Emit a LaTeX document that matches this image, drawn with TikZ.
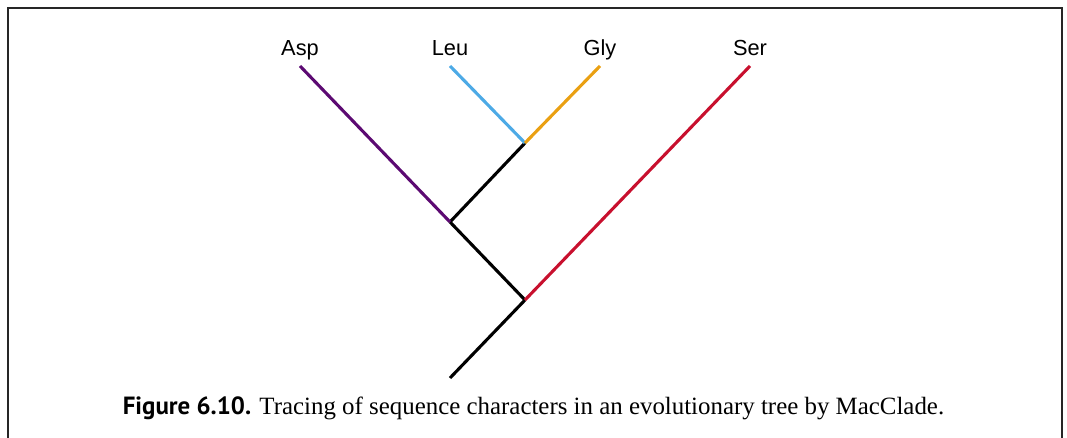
\documentclass[tikz,border=0pt]{standalone}
\usepackage{fontspec}
\setmainfont{Liberation Serif}
\setsansfont{Liberation Sans}
\newfontfamily\capfont{PT Sans}
\usepackage{xcolor}
\usetikzlibrary{positioning}

\definecolor{aspcol}{HTML}{5C0A72}
\definecolor{leucol}{HTML}{4DAAE6}
\definecolor{glycol}{HTML}{EAA012}
\definecolor{sercol}{HTML}{C8102E}

\begin{document}
\begin{tikzpicture}[x=0.025cm, y=-0.025cm,
  branch/.style={line width=2.2pt},
  taxon/.style={font=\sffamily\fontsize{15.5}{17}\selectfont, inner sep=1pt, anchor=base}]

\useasboundingbox (0,0) rectangle (1067,438);

% Frame (open at the bottom)
\draw[line width=1.2pt, black!85] (8,438) -- (8,8) -- (1062,8) -- (1062,438);

% Define nodes
\coordinate (root) at (450,378);
\coordinate (nSer) at (525,300);
\coordinate (nAsp) at (450,222);
\coordinate (nLG)  at (525,143);

\coordinate (tAsp) at (300,66);
\coordinate (tLeu) at (450,66);
\coordinate (tGly) at (600,66);
\coordinate (tSer) at (750,66);

% Labels
\node[taxon] (asp) at (300,56) {Asp};
\node[taxon] (leu) at (450,56) {Leu};
\node[taxon] (gly) at (600,56) {Gly};
\node[taxon] (ser) at (750,56) {Ser};

% Internal branches
\draw[branch, black] (root) -- (nSer);
\draw[branch, black] (nSer) -- (nAsp);
\draw[branch, black] (nAsp) -- (nLG);

% Terminal branches
\draw[branch, aspcol] (nAsp) -- (tAsp);
\draw[branch, leucol] (nLG) -- (tLeu);
\draw[branch, glycol] (nLG) -- (tGly);
\draw[branch, sercol] (nSer) -- (tSer);

% Caption
\node[anchor=base, inner sep=0pt, font=\fontsize{17.7}{20}\selectfont] (caption) at (533.5,415)
  {{\capfont\bfseries Figure 6.10.} Tracing of sequence characters in an evolutionary tree by MacClade.};

\end{tikzpicture}
\end{document}
